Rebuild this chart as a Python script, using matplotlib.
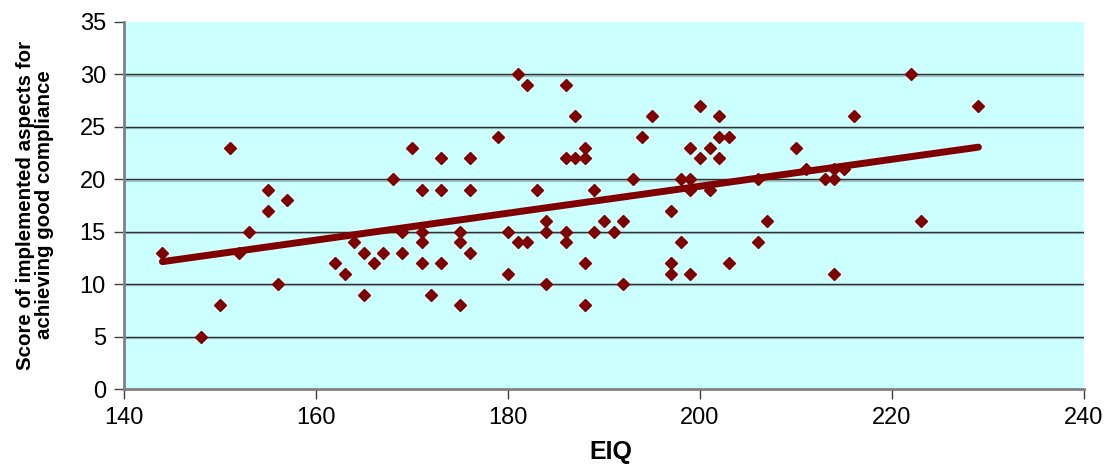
import numpy as np
import matplotlib.pyplot as plt

# EIQ vs score
eiq = [144, 148, 150, 151, 152, 153, 155, 155, 156, 157,
       162, 163, 164, 165, 165, 166, 167, 168, 169, 169, 170,
       171, 171, 171, 171, 172, 173, 173, 173, 175, 175, 175,
       176, 176, 176, 179, 180, 180, 181, 181, 182, 182, 183,
       184, 184, 184, 186, 186, 186, 186, 187, 187, 188, 188,
       188, 188, 189, 189, 190, 191, 192, 192, 193, 194, 195,
       197, 197, 197, 198, 198, 199, 199, 199, 199, 200, 200,
       201, 201, 202, 202, 202, 203, 203, 206, 206, 207, 210,
       211, 213, 214, 214, 214, 215, 216, 222, 223, 229]
score = [13, 5, 8, 23, 13, 15, 19, 17, 10, 18,
         12, 11, 14, 13, 9, 12, 13, 20, 15, 13, 23,
         19, 15, 14, 12, 9, 22, 19, 12, 15, 14, 8,
         22, 19, 13, 24, 15, 11, 30, 14, 29, 14, 19,
         16, 15, 10, 29, 22, 15, 14, 26, 22, 23, 22,
         12, 8, 19, 15, 16, 15, 16, 10, 20, 24, 26,
         17, 12, 11, 20, 14, 23, 20, 19, 11, 27, 22,
         23, 19, 26, 24, 22, 24, 12, 20, 14, 16, 23,
         21, 20, 21, 20, 11, 21, 26, 30, 16, 27]

x_ticks = [140, 160, 180, 200, 220, 240]
y_ticks = [0, 5, 10, 15, 20, 25, 30, 35]

plt.rcParams['font.family'] = ['Liberation Sans', 'DejaVu Sans']

fig = plt.figure(figsize=(11.10, 4.68), dpi=100)
ax = fig.add_axes([124 / 1110, 79 / 468, 960 / 1110, 367 / 468])
ax.set_facecolor('#ccffff')

# horizontal gridlines with a faint shadow like the old Excel look
for yv in y_ticks[1:-1]:
    ax.axhline(yv - 0.12, color='#9fc8c8', lw=1.6, zorder=1)
    ax.axhline(yv, color='#303030', lw=1.0, zorder=1)

ax.plot(eiq, score, 'D', color='#800000', ms=6.3, mec='#800000', mew=1.0, zorder=3)

# linear trend line
k, b = np.polyfit(eiq, score, 1)
xs = np.array([min(eiq), max(eiq)])
ax.plot(xs, k * xs + b, color='#800000', lw=5.0, solid_capstyle='round', zorder=4)

ax.set_xlim(140, 240)
ax.set_ylim(0, 35)
ax.set_xticks(x_ticks)
ax.set_yticks(y_ticks)
ax.tick_params(axis='both', direction='out', length=7, width=1, color='#404040',
               labelsize=17, pad=6)

for side in ['top', 'right']:
    ax.spines[side].set_visible(False)
for side in ['left', 'bottom']:
    ax.spines[side].set_color('#808080')
    ax.spines[side].set_linewidth(2)

fig.text(35 / 1110, 1 - 205 / 468,
         'Score of implemented aspects for\nachieving good compliance',
         rotation=90, ha='center', va='center', multialignment='center',
         fontsize=14.8, fontweight='bold', linespacing=1.0)
fig.text(611 / 1110, 1 - 452 / 468, 'EIQ', ha='center', va='center',
         fontsize=18, fontweight='bold')

fig.savefig('out.png', dpi=100)
